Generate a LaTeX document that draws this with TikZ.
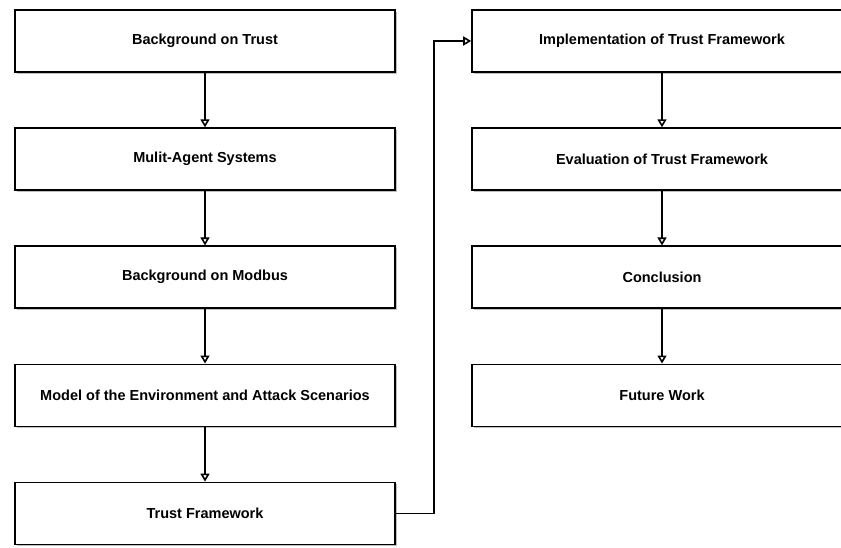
\documentclass[tikz,border=0pt]{standalone}
\usepackage{fontspec}
\setmainfont{Liberation Sans}
\usetikzlibrary{positioning,arrows.meta,shadows}

\tikzset{
  chapter/.style={draw, line width=1.6pt, fill=white, minimum width=380pt,
    minimum height=62pt, font=\bfseries\fontsize{14.5}{17}\selectfont,
    drop shadow={shadow xshift=2pt, shadow yshift=-2pt, fill=black!25, opacity=1}},
  flow/.style={line width=1.6pt, -{Triangle[open, length=8pt, width=9pt]}}
}

\begin{document}
\begin{tikzpicture}[x=1pt,y=-1pt,node distance=54.5pt]

	% page size of the reference
	\useasboundingbox (0,0) rectangle (841,547);
	\clip (0,0) rectangle (841,547);

	% left column of chapters
	\node[chapter] (trust) at (205,41) {Background on Trust};
	\node[chapter, below=of trust] (mas) {Mulit-Agent Systems};
	\node[chapter, below=of mas] (modbus) {Background on Modbus};
	\node[chapter, below=of modbus] (model) {Model of the Environment and Attack Scenarios};
	\node[chapter, below=of model] (frame) {Trust Framework};

	% right column of chapters
	\node[chapter] (impl) at (662,41) {Implementation of Trust Framework};
	\node[chapter, below=of impl] (eval) {Evaluation of Trust Framework};
	\node[chapter, below=of eval] (concl) {Conclusion};
	\node[chapter, below=of concl] (future) {Future Work};

	% arrows down the left column
	\draw[flow] (trust) -- (mas);
	\draw[flow] (mas) -- (modbus);
	\draw[flow] (modbus) -- (model);
	\draw[flow] (model) -- (frame);

	% jump over to the right column
	\draw[flow] (frame.east) -- +(38,0) |- (impl.west);

	% arrows down the right column
	\draw[flow] (impl) -- (eval);
	\draw[flow] (eval) -- (concl);
	\draw[flow] (concl) -- (future);

\end{tikzpicture}
\end{document}
